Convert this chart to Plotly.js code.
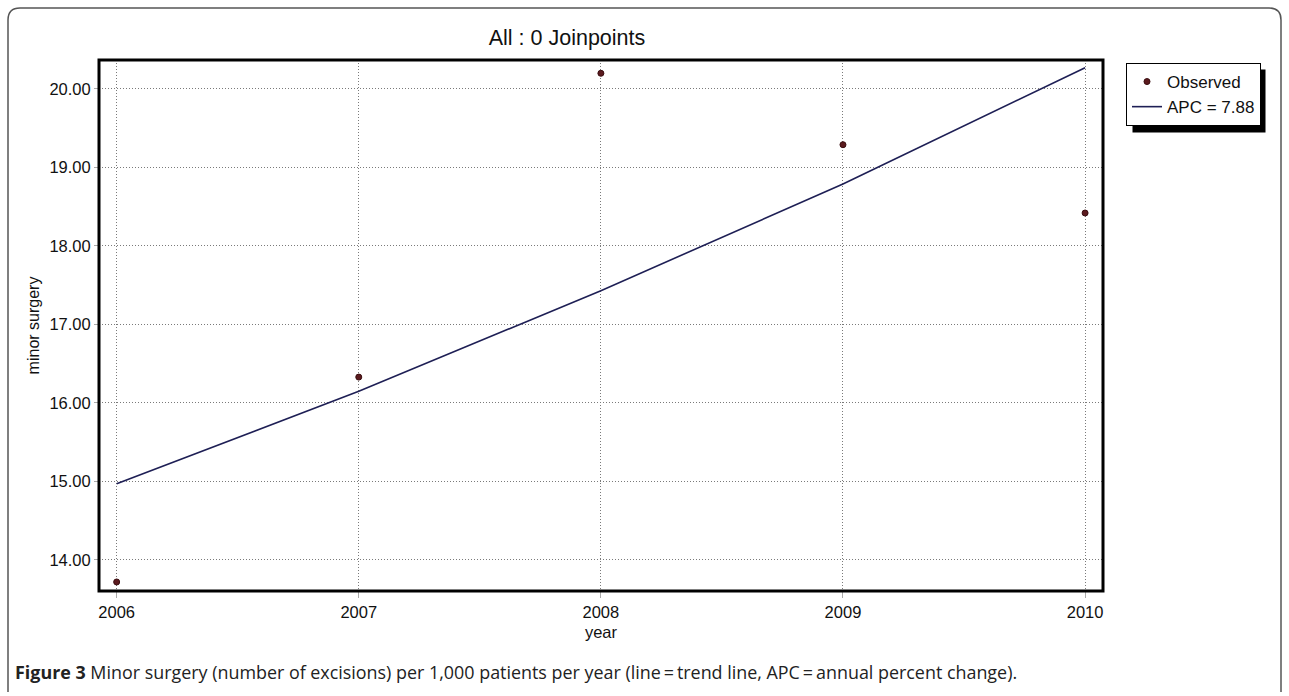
<!DOCTYPE html>
<html>
<head>
<meta charset="utf-8">
<script src="https://cdn.plot.ly/plotly-3.0.1.min.js"></script>
<style>
html,body{margin:0;padding:0;background:#fff;}
#chart{width:1289px;height:696px;}
</style>
</head>
<body>
<div id="chart"></div>
<script>
// Data
const years = [2006, 2007, 2008, 2009, 2010];
const observed = [13.72, 16.33, 20.20, 19.29, 18.42];
const trend = [14.97, 16.15, 17.43, 18.79, 20.27];
const yTicks = [14, 15, 16, 17, 18, 19, 20];
const apcLabel = 'APC = 7.88';

// layout geometry (pixels)
const W = 1289, H = 696;
const L = 99, R = 1103, T = 60, B = 591;
const px = x => (x - L) / (R - L);
const py = y => (B - y) / (B - T);

const font = 'Liberation Sans, Arial, sans-serif';

const traces = [
  {
    x: years, y: observed, type: 'scatter', mode: 'markers', name: 'Observed',
    marker: {color: '#5b1a1e', size: 6, symbol: 'circle', line: {color: '#3a0d10', width: 1}},
    cliponaxis: false
  },
  {
    x: years, y: trend, type: 'scatter', mode: 'lines', name: apcLabel,
    line: {color: '#1e1f55', width: 1.6}
  }
];

const fx0 = px(8), fx1 = px(1281), fy0 = py(8), fy1 = py(692);
const rX = 12 / (R - L), rY = 12 / (B - T);

const gridDash = '1px,2px';

const layout = {
  width: W, height: H,
  margin: {l: L, r: W - R, t: T, b: H - B, pad: 0},
  paper_bgcolor: '#ffffff', plot_bgcolor: '#ffffff',
  showlegend: true,
  title: {
    text: 'All : 0 Joinpoints',
    font: {family: font, size: 21.5, color: '#111'},
    x: 567 / W, xanchor: 'center', y: 1 - 37 / H, yanchor: 'middle'
  },
  xaxis: {
    range: [2005.927, 2010.074],
    tickmode: 'array', tickvals: years, ticktext: years.map(String),
    showgrid: true, gridcolor: '#7a7a7a', griddash: gridDash, gridwidth: 1,
    zeroline: false, showline: false,
    ticks: 'outside', ticklen: 6, tickcolor: '#aaa', tickwidth: 1,
    tickfont: {family: font, size: 16.5, color: '#111'},
    title: {text: 'year', font: {family: font, size: 16.5, color: '#111'}, standoff: 6}
  },
  yaxis: {
    range: [13.605, 20.369],
    tickmode: 'array', tickvals: yTicks, ticktext: yTicks.map(v => v.toFixed(2)),
    showgrid: true, gridcolor: '#7a7a7a', griddash: gridDash, gridwidth: 1,
    zeroline: false, showline: false,
    ticks: 'outside', ticklen: 4, tickcolor: '#aaa', tickwidth: 1,
    tickfont: {family: font, size: 16.5, color: '#111'},
    title: {text: 'minor surgery', font: {family: font, size: 16, color: '#111'}, standoff: 5}
  },
  legend: {
    x: px(1126), y: py(63), xanchor: 'left', yanchor: 'top',
    bgcolor: '#ffffff', bordercolor: '#000', borderwidth: 1,
    font: {family: font, size: 17, color: '#111'},
    itemwidth: 30, tracegroupgap: 0
  },
  shapes: [
    // plot frame
    {type: 'rect', xref: 'paper', yref: 'paper', x0: 0, x1: 1, y0: 0, y1: 1,
     line: {color: '#000', width: 3}},
    // outer rounded border
    {type: 'path', xref: 'paper', yref: 'paper', line: {color: '#555', width: 1.5},
     path: `M ${fx0} ${fy1} L ${fx0} ${fy0 - rY} Q ${fx0} ${fy0} ${fx0 + rX} ${fy0} ` +
           `L ${fx1 - rX} ${fy0} Q ${fx1} ${fy0} ${fx1} ${fy0 - rY} L ${fx1} ${fy1}`}
  ],
  annotations: [
    {xref: 'paper', yref: 'paper', x: px(13), y: py(672), xanchor: 'left', yanchor: 'middle',
     showarrow: false, align: 'left',
     text: '<b>Figure 3</b> Minor surgery (number of excisions) per 1,000 patients per year (line\u2009=\u2009trend line, APC\u2009=\u2009annual percent change).',
     font: {family: 'Open Sans, Noto Sans, sans-serif', size: 17.9, color: '#222'}}
  ]
};

Plotly.newPlot('chart', traces, layout, {staticPlot: true, displayModeBar: false}).then(gd => {
  // add a drop shadow behind the legend box, sized from the rendered legend
  const bg = gd.querySelector('.legend .bg');
  const host = gd.getBoundingClientRect();
  if (!bg) return;
  const b = bg.getBoundingClientRect();
  const x0 = b.left - host.left, y0 = b.top - host.top;
  const x1 = x0 + b.width, y1 = y0 + b.height;
  const shadow = {type: 'rect', xref: 'paper', yref: 'paper', layer: 'below',
    x0: px(x0 + 6), x1: px(x1 + 5), y0: py(y0 + 6), y1: py(y1 + 7),
    fillcolor: '#000', line: {width: 0}};
  Plotly.relayout(gd, {shapes: layout.shapes.concat([shadow])});
});
</script>
</body>
</html>
